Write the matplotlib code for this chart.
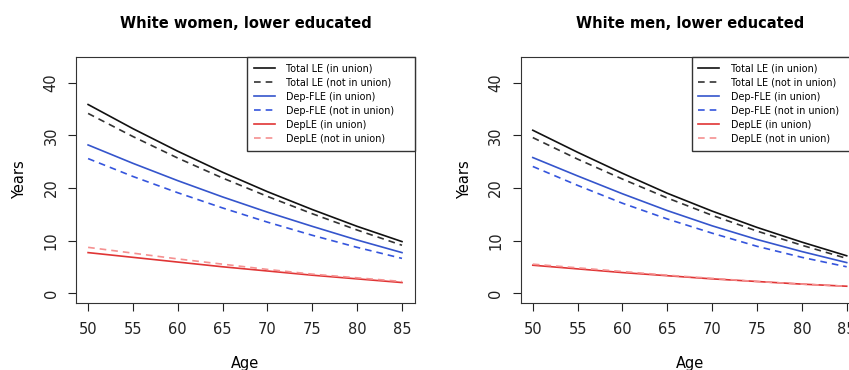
import numpy as np
import matplotlib.pyplot as plt

ages = [50, 55, 60, 65, 70, 75, 80, 85]

# white women, lower educated
w_total_u = [35.9, 31.3, 27.0, 23.0, 19.3, 15.9, 12.7, 9.8]
w_total_n = [34.2, 29.8, 25.7, 21.9, 18.4, 15.1, 12.0, 9.1]
w_fle_u = [28.2, 24.7, 21.4, 18.3, 15.4, 12.7, 10.1, 7.7]
w_fle_n = [25.6, 22.2, 19.1, 16.2, 13.5, 11.0, 8.7, 6.6]
w_dep_u = [7.7, 6.8, 5.9, 5.0, 4.2, 3.4, 2.7, 2.0]
w_dep_n = [8.7, 7.6, 6.5, 5.5, 4.5, 3.6, 2.9, 2.2]

# white men, lower educated
m_total_u = [31.0, 26.8, 22.8, 19.0, 15.6, 12.5, 9.7, 7.1]
m_total_n = [29.6, 25.5, 21.7, 18.1, 14.8, 11.8, 9.1, 6.6]
m_fle_u = [25.8, 22.3, 18.9, 15.7, 12.8, 10.2, 7.9, 5.8]
m_fle_n = [24.1, 20.5, 17.1, 14.1, 11.4, 8.9, 6.8, 5.0]
m_dep_u = [5.3, 4.6, 3.9, 3.3, 2.7, 2.2, 1.7, 1.3]
m_dep_n = [5.5, 4.8, 4.1, 3.4, 2.8, 2.2, 1.7, 1.3]

labels = ["Total LE (in union)", "Total LE (not in union)",
          "Dep-FLE (in union)", "Dep-FLE (not in union)",
          "DepLE (in union)", "DepLE (not in union)"]
colors = ["#111111", "#333333", "#3555cc", "#3555dd", "#e03535", "#f59090"]
styles = ["-", "--", "-", "--", "-", "--"]

panels = [
    ("White women, lower educated",
     [w_total_u, w_total_n, w_fle_u, w_fle_n, w_dep_u, w_dep_n]),
    ("White men, lower educated",
     [m_total_u, m_total_n, m_fle_u, m_fle_n, m_dep_u, m_dep_n]),
]

fig = plt.figure(figsize=(8.49, 3.70), dpi=100)
lefts = [0.0895, 0.6133]

for left, (title, series) in zip(lefts, panels):
    ax = fig.add_axes([left, 0.181, 0.3993, 0.665])
    for vals, c, ls, lab in zip(series, colors, styles, labels):
        ax.plot(ages, vals, color=c, linestyle=ls, linewidth=1.2, label=lab,
                dashes=(4, 3) if ls == "--" else (None, None))
    ax.set_xlim(48.65, 86.45)
    ax.set_ylim(-1.9, 44.95)
    ax.set_xticks(range(50, 90, 5))
    ax.set_yticks(range(0, 50, 10))
    ax.tick_params(axis="y", labelrotation=90, length=6, labelsize=10.5,
                   pad=6.5, colors="#222222")
    ax.tick_params(axis="x", length=6, labelsize=10.5, pad=8, colors="#222222")
    for lab in ax.get_yticklabels():
        lab.set_verticalalignment("center")
    for s in ax.spines.values():
        s.set_color("#333333")
    ax.set_xlabel("Age", fontsize=10.5, labelpad=13)
    ax.set_ylabel("Years", fontsize=10.5, labelpad=12)
    ax.set_title(title, fontsize=10.5, fontweight="bold", pad=21)
    leg = ax.legend(loc="upper right", fontsize=6.9, frameon=True,
                    fancybox=False, framealpha=1, edgecolor="#333333",
                    bbox_to_anchor=(1 - 168 / 339, 0, 168 / 339, 1),
                    mode="expand",
                    borderaxespad=0, handlelength=2.2, labelspacing=0.42,
                    borderpad=0.7, handletextpad=1.15)
    leg.get_frame().set_linewidth(1.0)

fig.savefig("out.png", dpi=100)
